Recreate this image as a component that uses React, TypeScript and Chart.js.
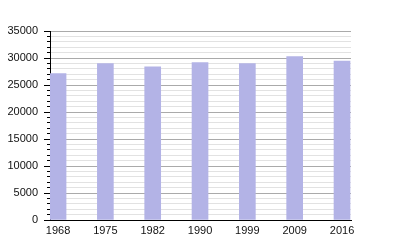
import React, { useEffect, useRef } from "react";
import { Chart, registerables } from "chart.js";

Chart.register(...registerables);

const years = ["1968", "1975", "1982", "1990", "1999", "2009", "2016"];
const population = [27100, 28950, 28350, 29130, 28950, 30240, 29450];
const yMax = 35000;
const majorStep = 5000;
const minorStep = 1000;

const FONT = { family: "'Liberation Sans', Arial, sans-serif", size: 11 };

export default function App() {
  const ref = useRef<HTMLCanvasElement | null>(null);

  useEffect(() => {
    if (!ref.current) return;
    const chart = new Chart(ref.current, {
      type: "bar",
      data: {
        datasets: [
          {
            data: population.map((v, i) => ({ x: i, y: v })),
            backgroundColor: "#b3b3e6",
            barThickness: 16,
          },
        ],
      },
      options: {
        animation: false,
        responsive: false,
        layout: { padding: { top: 31, right: 49, left: 0, bottom: 0 } },
        plugins: { legend: { display: false }, tooltip: { enabled: false } },
        scales: {
          x: {
            type: "linear",
            offset: false,
            min: -0.17,
            max: 6.19,
            afterBuildTicks: (s: any) => {
              s.ticks = years.map((_, i) => ({ value: i }));
            },
            afterFit: (s: any) => {
              s.height = 30;
            },
            ticks: {
              autoSkip: false,
              maxRotation: 0,
              padding: 4,
              color: "#111",
              font: FONT,
              callback: (v: any) => years[v] ?? "",
            },
            grid: { display: false, drawTicks: false, offset: false },
            border: { display: true, color: "#000", width: 1 },
          },
          y: {
            type: "linear",
            position: "left",
            weight: 1,
            min: 0,
            max: yMax,
            afterFit: (s: any) => {
              s.width = 50;
            },
            ticks: {
              stepSize: majorStep,
              padding: 6,
              color: "#111",
              font: FONT,
              callback: (v: any) => String(v),
            },
            grid: { color: "#aaaaaa", tickColor: "#000", tickLength: 6 },
            border: { display: true, color: "#000", width: 1 },
          },
          y2: {
            type: "linear",
            position: "left",
            weight: 0,
            min: 0,
            max: yMax,
            afterFit: (s: any) => {
              s.width = 0;
            },
            ticks: { stepSize: minorStep, display: false, autoSkip: false },
            grid: {
              color: (ctx: any) =>
                ctx.tick && ctx.tick.value % majorStep === 0 ? "rgba(0,0,0,0)" : "#e2e2e2",
              tickColor: "#000",
              tickLength: 3,
            },
            border: { display: false },
          },
        },
      } as any,
    });
    return () => chart.destroy();
  }, []);

  return (
    <div style={{ position: "fixed", left: 0, top: 0, width: 400, height: 250, background: "#fff" }}>
      <canvas ref={ref} width={400} height={250} style={{ display: "block" }} />
    </div>
  );
}
